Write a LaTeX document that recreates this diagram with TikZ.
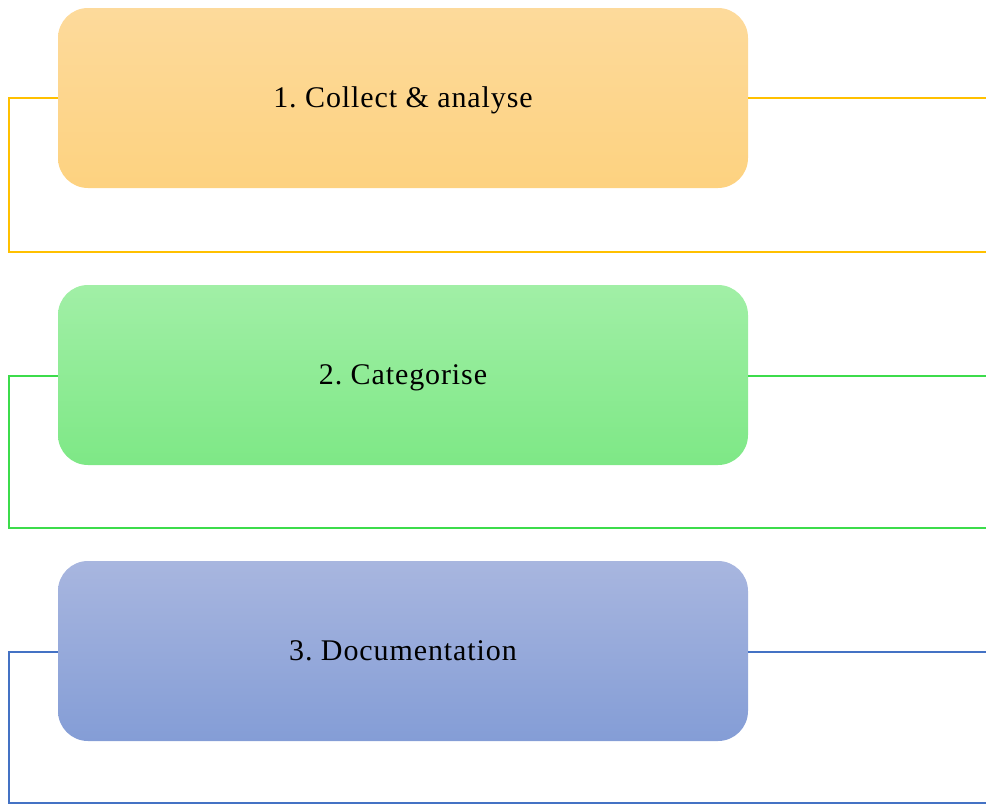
\documentclass[tikz,border=0pt]{standalone}
\usepackage{fontspec}
\setmainfont{Liberation Serif}[LetterSpace=3]
\definecolor{o1}{RGB}{253,218,155}
\definecolor{o2}{RGB}{253,210,128}
\definecolor{oL}{RGB}{255,192,0}
\definecolor{g1}{RGB}{161,239,166}
\definecolor{g2}{RGB}{126,232,134}
\definecolor{gL}{RGB}{60,220,75}
\definecolor{b1}{RGB}{168,182,223}
\definecolor{b2}{RGB}{132,157,214}
\definecolor{bL}{RGB}{68,114,196}
\tikzset{
  stepbox/.style={rounded corners=30pt, minimum width=690pt, minimum height=180pt,
    inner sep=0pt, text height=22pt, text depth=4pt,
    font=\fontsize{30}{34}\selectfont, text=black},
  link/.style={line width=1.6pt}
}
\begin{document}
\begin{tikzpicture}[x=1pt,y=-1pt]
\useasboundingbox (0,0) rectangle (986,804);
% box nodes
\node[stepbox, top color=o1, bottom color=o2] (s1) at (403,98) {1.\ Collect \& analyse};
\node[stepbox, top color=g1, bottom color=g2] (s2) at (403,375) {2.\ Categorise};
\node[stepbox, top color=b1, bottom color=b2] (s3) at (403,651) {3.\ Documentation};
% coordinates
\coordinate (l1) at (9,98);   \coordinate (r1) at (986,98);  \coordinate (e1) at (986,252);
\coordinate (l2) at (9,376);  \coordinate (r2) at (986,376); \coordinate (e2) at (986,528);
\coordinate (l3) at (9,652);  \coordinate (r3) at (986,652); \coordinate (e3) at (986,803);
% connectors
\draw[link, oL] (s1.west |- l1) -- (l1) |- (e1);
\draw[link, oL] (s1.east |- r1) -- (r1);
\draw[link, gL] (s2.west |- l2) -- (l2) |- (e2);
\draw[link, gL] (s2.east |- r2) -- (r2);
\draw[link, bL] (s3.west |- l3) -- (l3) |- (e3);
\draw[link, bL] (s3.east |- r3) -- (r3);
\end{tikzpicture}
\end{document}
